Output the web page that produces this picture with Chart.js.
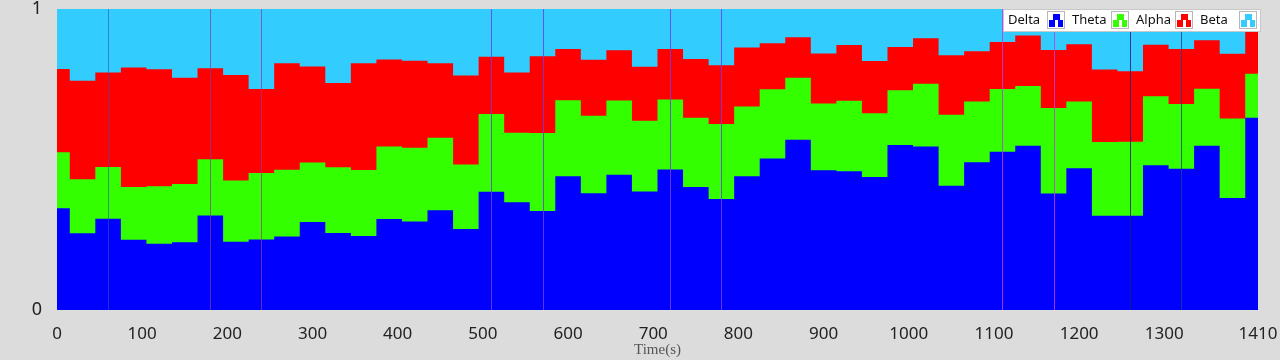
<!DOCTYPE html>
<html>
<head>
<meta charset="utf-8">
<script src="https://cdn.jsdelivr.net/npm/chart.js@4/dist/chart.umd.min.js"></script>
<style>
  html, body { margin: 0; padding: 0; background: #dcdcdc; }
  #wrap { width: 1280px; height: 360px; position: relative; }
</style>
</head>
<body>
<div id="wrap"><canvas id="chart"></canvas></div>
<script>
'use strict';

// time of each epoch (s)
var times = [0, 30, 60, 90, 120, 150, 180, 210, 240, 270, 300, 330, 360, 390, 420, 450,
  480, 510, 540, 570, 600, 630, 660, 690, 720, 750, 780, 810, 840, 870, 900, 930,
  960, 990, 1020, 1050, 1080, 1110, 1140, 1170, 1200, 1230, 1260, 1290, 1320, 1350, 1380, 1410];

// relative band power per epoch
var delta = [.338, .255, .303, .233, .220, .225, .314, .227, .234, .244, .292, .256, .246, .302, .294, .331,
  .269, .393, .358, .329, .444, .388, .449, .394, .467, .409, .369, .444, .503, .566, .464, .461,
  .442, .548, .543, .413, .491, .526, .546, .387, .471, .313, .313, .481, .469, .546, .372, .639];
var theta = [.186, .179, .172, .176, .191, .194, .187, .203, .221, .222, .198, .218, .219, .241, .245, .241,
  .214, .258, .231, .259, .253, .257, .247, .235, .232, .230, .249, .232, .230, .206, .222, .234,
  .212, .182, .209, .236, .202, .208, .198, .284, .222, .245, .246, .229, .215, .189, .264, .146];
var alpha = [.277, .328, .314, .397, .389, .353, .302, .351, .279, .354, .319, .280, .355, .289, .289, .248,
  .296, .190, .200, .255, .170, .186, .167, .179, .168, .195, .195, .196, .153, .134, .166, .185,
  .173, .144, .151, .197, .167, .156, .168, .193, .190, .241, .234, .171, .183, .161, .215, .165];
var beta = [.199, .238, .211, .194, .200, .228, .197, .219, .266, .180, .191, .246, .180, .168, .172, .180,
  .221, .159, .211, .157, .133, .169, .137, .192, .133, .166, .187, .128, .114, .094, .148, .120,
  .173, .126, .097, .154, .140, .110, .088, .136, .117, .201, .207, .119, .133, .104, .149, .050];

var bandNames = ['Delta', 'Theta', 'Alpha', 'Beta'];
var bandColors = ['#0000ff', '#33ff00', '#ff0000', '#33ccff'];

var xTicks = [0, 100, 200, 300, 400, 500, 600, 700, 800, 900, 1000, 1100, 1200, 1300, 1410];
var yTicks = [0, 1];

// event markers
var markerTimes = [60, 180, 240, 510, 570, 720, 780, 1110, 1170, 1260, 1320];
var markerColors = ['rgba(40,90,170,0.6)', 'rgba(130,60,150,0.7)', 'rgba(160,50,150,0.7)',
  'rgba(110,60,230,0.85)', 'rgba(110,60,230,0.85)', 'rgba(120,60,230,0.85)', 'rgba(120,60,230,0.85)',
  'rgba(190,60,230,0.85)', 'rgba(190,60,230,0.85)', 'rgba(30,30,110,0.85)', 'rgba(40,60,130,0.8)'];

function toPoints(values) {
  var pts = [];
  for (var i = 0; i < times.length; i++) {
    pts.push({ x: times[i], y: values[i] });
  }
  return pts;
}

var bandValues = [delta, theta, alpha, beta];
var datasets = [];
for (var b = 0; b < bandNames.length; b++) {
  datasets.push({
    label: bandNames[b],
    data: toPoints(bandValues[b]),
    backgroundColor: bandColors[b],
    borderColor: bandColors[b],
    borderWidth: 0,
    pointRadius: 0,
    stepped: 'middle',
    fill: 'origin'
  });
}

function legendIcon(ctx, x, y, color) {
  ctx.fillStyle = '#ffffff';
  ctx.fillRect(x, y, 18, 18);
  ctx.strokeStyle = '#b8b8b8';
  ctx.lineWidth = 1;
  ctx.strokeRect(x + 0.5, y + 0.5, 17, 17);
  ctx.fillStyle = color;
  ctx.fillRect(x + 6, y + 3, 7, 6);
  ctx.fillRect(x + 2, y + 9, 6, 7);
  ctx.fillRect(x + 11, y + 9, 5, 7);
}

var markersAndLegend = {
  id: 'markersAndLegend',
  afterDatasetsDraw: function(chart) {
    var ctx = chart.ctx;
    var area = chart.chartArea;
    var xs = chart.scales.x;
    ctx.save();
    for (var i = 0; i < markerTimes.length; i++) {
      var px = Math.round(xs.getPixelForValue(markerTimes[i])) + 0.5;
      ctx.strokeStyle = markerColors[i];
      ctx.lineWidth = 1;
      ctx.beginPath();
      ctx.moveTo(px, area.top);
      ctx.lineTo(px, area.bottom);
      ctx.stroke();
    }
    ctx.restore();
  },
  afterDraw: function(chart) {
    var ctx = chart.ctx;
    ctx.save();
    // legend box
    ctx.fillStyle = '#ffffff';
    ctx.fillRect(1003, 9, 258, 22);
    ctx.strokeStyle = '#c8c8c8';
    ctx.lineWidth = 1;
    ctx.strokeRect(1003.5, 9.5, 257, 22);
    ctx.font = '13px "Noto Sans"';
    ctx.textBaseline = 'middle';
    var x = 1008;
    for (var i = 0; i < bandNames.length; i++) {
      ctx.fillStyle = '#111';
      ctx.fillText(bandNames[i], x, 20);
      legendIcon(ctx, x + 39, 11, bandColors[i]);
      x += 64;
    }
    ctx.restore();
  }
};

var ctx = document.getElementById('chart').getContext('2d');
var chart = new Chart(ctx, {
  type: 'line',
  data: { datasets: datasets },
  options: {
    responsive: true,
    maintainAspectRatio: false,
    animation: false,
    layout: { padding: { top: 9, right: 22, left: 0, bottom: 0 } },
    plugins: {
      legend: { display: false },
      tooltip: { enabled: false }
    },
    scales: {
      x: {
        type: 'linear',
        min: 0,
        max: 1410,
        grid: { display: false },
        border: { display: false },
        afterBuildTicks: function(scale) {
          scale.ticks = xTicks.map(function(v) { return { value: v }; });
        },
        afterFit: function(scale) {
          scale.height = 50;
          scale.paddingLeft = 0;
          scale.paddingRight = 0;
        },
        ticks: {
          autoSkip: false,
          maxRotation: 0,
          padding: 6,
          color: '#222',
          font: { family: '"Noto Sans"', size: 17 },
          callback: function(value) { return String(value); }
        },
        title: {
          display: true,
          text: 'Time(s)',
          color: '#555',
          padding: { top: 0, bottom: 1 },
          font: { family: '"Liberation Serif"', size: 15 }
        }
      },
      y: {
        stacked: true,
        min: 0,
        max: 1,
        grid: { display: false },
        border: { display: false },
        afterBuildTicks: function(scale) {
          scale.ticks = yTicks.map(function(v) { return { value: v }; });
        },
        afterFit: function(scale) {
          scale.width = 57;
          scale.paddingTop = 0;
          scale.paddingBottom = 0;
        },
        ticks: {
          padding: 7,
          color: '#222',
          font: { family: '"Noto Sans"', size: 18, lineHeight: 1 },
          callback: function(value) { return String(value); }
        }
      }
    }
  },
  plugins: [markersAndLegend]
});
</script>
</body>
</html>
